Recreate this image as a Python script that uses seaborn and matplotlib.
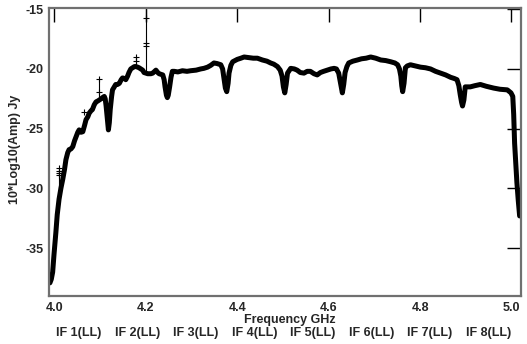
import numpy as np
import pandas as pd
import matplotlib
matplotlib.use("Agg")
import matplotlib.pyplot as plt
import seaborn as sns

# ---- data ----
freq = [3.990, 3.993, 3.996, 3.999, 4.003, 4.006, 4.010, 4.014, 4.018, 4.022,
        4.025, 4.029, 4.032, 4.036, 4.040, 4.044, 4.047, 4.051, 4.054, 4.058,
        4.062, 4.066, 4.069, 4.073, 4.076, 4.080, 4.083, 4.087, 4.091, 4.094,
        4.098, 4.102, 4.105, 4.109, 4.111, 4.113, 4.116, 4.118, 4.120, 4.122,
        4.125, 4.127, 4.131, 4.134, 4.138, 4.142, 4.146, 4.149, 4.153, 4.156,
        4.160, 4.163, 4.167, 4.171, 4.175, 4.178, 4.182, 4.185, 4.189, 4.193,
        4.196, 4.200, 4.204, 4.207, 4.211, 4.215, 4.219, 4.222, 4.226, 4.229,
        4.233, 4.237, 4.240, 4.242, 4.245, 4.247, 4.249, 4.252, 4.255, 4.258,
        4.262, 4.270, 4.280, 4.290, 4.298, 4.310, 4.320, 4.327, 4.335, 4.342,
        4.349, 4.356, 4.364, 4.368, 4.371, 4.374, 4.377, 4.380, 4.382, 4.386,
        4.390, 4.400, 4.408, 4.415, 4.425, 4.435, 4.444, 4.455, 4.465, 4.473,
        4.480, 4.488, 4.494, 4.498, 4.501, 4.504, 4.507, 4.510, 4.517, 4.525,
        4.531, 4.538, 4.546, 4.553, 4.560, 4.568, 4.575, 4.582, 4.589, 4.597,
        4.605, 4.612, 4.617, 4.622, 4.626, 4.630, 4.633, 4.636, 4.640, 4.644,
        4.653, 4.663, 4.672, 4.682, 4.692, 4.703, 4.714, 4.725, 4.736, 4.745,
        4.751, 4.755, 4.758, 4.760, 4.762, 4.765, 4.768, 4.772, 4.779, 4.790,
        4.801, 4.812, 4.823, 4.834, 4.845, 4.856, 4.867, 4.875, 4.881, 4.885,
        4.888, 4.891, 4.893, 4.896, 4.899, 4.905, 4.910, 4.920, 4.932, 4.945,
        4.961, 4.975, 4.991, 4.999, 5.003, 5.005, 5.007, 5.010, 5.012, 5.015,
        5.018]
amp = [-37.9, -37.6, -37.0, -35.5, -33.7, -32.2, -30.9, -30.0, -29.25, -28.4,
       -27.6, -27.0, -26.75, -26.7, -26.5, -26.0, -25.7, -25.3, -25.1, -25.3,
       -25.25, -24.7, -24.25, -24.0, -23.7, -23.5, -23.4, -23.0, -22.75, -22.7,
       -22.6, -22.5, -22.4, -22.3, -22.5, -23.1, -24.3, -25.1, -24.5, -23.4,
       -22.3, -21.75, -21.5, -21.3, -21.3, -21.2, -20.9, -20.75, -20.8, -20.9,
       -20.6, -20.3, -20.0, -19.9, -19.8, -19.8, -19.85, -19.9, -20.0, -20.1,
       -20.3, -20.35, -20.4, -20.4, -20.4, -20.35, -20.2, -20.1, -20.3, -20.4,
       -20.45, -20.5, -20.9, -21.5, -22.2, -22.4, -22.2, -21.5, -20.7, -20.2,
       -20.2, -20.25, -20.15, -20.2, -20.15, -20.1, -20.0, -19.95, -19.85, -19.7,
       -19.5, -19.55, -19.65, -20.0, -20.8, -21.6, -21.9, -21.2, -20.35, -19.7,
       -19.4, -19.2, -19.1, -19.0, -19.05, -19.1, -19.1, -19.25, -19.35, -19.5,
       -19.6, -19.8, -20.1, -20.6, -21.5, -22.0, -21.3, -20.35, -19.95, -20.0,
       -20.1, -20.3, -20.35, -20.2, -20.2, -20.4, -20.5, -20.3, -20.2, -20.1,
       -20.0, -19.95, -20.0, -20.35, -21.2, -22.0, -21.3, -20.3, -19.8, -19.5,
       -19.35, -19.25, -19.15, -19.1, -19.0, -19.1, -19.25, -19.3, -19.4, -19.5,
       -19.65, -20.0, -20.6, -21.4, -21.9, -21.2, -19.9, -19.75, -19.65, -19.75,
       -19.85, -19.9, -20.0, -20.2, -20.35, -20.5, -20.7, -20.8, -20.9, -21.4,
       -22.15, -22.8, -23.1, -22.6, -21.5, -21.5, -21.5, -21.4, -21.3, -21.45,
       -21.6, -21.7, -21.75, -22.0, -22.3, -23.8, -26.2, -28.2, -29.5, -31.0,
       -32.3]

# outlying samples (frequency, value)
out_freq = [4.010, 4.010, 4.010, 4.010, 4.098, 4.098, 4.200, 4.200, 4.200, 4.178, 4.178, 4.064]
out_amp = [-28.3, -28.5, -28.7, -28.9, -20.8, -21.9, -15.7, -17.8, -18.1, -19.0, -19.3, -23.6]
spike_freq = [4.010, 4.098, 4.200, 4.178]
spike_lo = [-30.0, -22.6, -20.4, -19.8]
spike_hi = [-28.3, -20.8, -15.0, -19.0]

if_names = ["IF 1(LL)", "IF 2(LL)", "IF 3(LL)", "IF 4(LL)",
            "IF 5(LL)", "IF 6(LL)", "IF 7(LL)", "IF 8(LL)"]
if_centers = [4.054, 4.182, 4.310, 4.438, 4.566, 4.694, 4.822, 4.950]

xticks = [4.0, 4.2, 4.4, 4.6, 4.8, 5.0]
yticks = [-35, -30, -25, -20, -15]

# ---- style ----
sns.set_theme(style="white")
plt.rcParams["font.family"] = ["Liberation Sans", "DejaVu Sans"]
plt.rcParams["font.weight"] = "bold"
plt.rcParams["axes.unicode_minus"] = False

FS = 9
fig = plt.figure(figsize=(5.27, 3.44), dpi=100)
ax = fig.add_axes([49 / 527, 1 - 296 / 344, 472 / 527, 288 / 344])

df = pd.DataFrame({"freq": freq, "amp": amp})
sns.lineplot(data=df, x="freq", y="amp", ax=ax, color="black", linewidth=3.6,
             sort=False, estimator=None)
ax.vlines(spike_freq, spike_lo, spike_hi, color="black", linewidth=0.8)
sns.scatterplot(x=out_freq, y=out_amp, ax=ax, marker="+", color="black", s=18,
                linewidth=0.8)

ax.set_xlim(3.988, 5.021)
ax.set_ylim(-39.0, -14.9)
ax.set_xticks(xticks)
ax.set_xticklabels([f"{t:.1f}" for t in xticks])
ax.set_yticks(yticks)
ax.set_yticklabels([str(t) for t in yticks])

ax.tick_params(axis="both", direction="in", length=10, width=1.0, color="black",
               top=True, right=True, labelsize=FS)
ax.tick_params(axis="x", pad=4.5)
ax.tick_params(axis="y", pad=4.0)
for lab in ax.get_xticklabels() + ax.get_yticklabels():
    lab.set_fontweight("bold")
for sp in ax.spines.values():
    sp.set_color("#707070")
    sp.set_linewidth(1.6)

ax.set_xlabel("Frequency GHz", fontsize=FS, fontweight="bold", va="center")
ax.xaxis.set_label_coords(0.51, -24 / 288)
ax.set_ylabel("10*Log10(Amp) Jy", fontsize=FS, fontweight="bold", va="center")
ax.yaxis.set_label_coords(-34 / 472, 0.51)

trans = matplotlib.transforms.blended_transform_factory(ax.transData, ax.transAxes)
for name, c in zip(if_names, if_centers):
    ax.text(c, -37 / 288, name, transform=trans, ha="center", va="center",
            fontsize=FS, fontweight="bold")

fig.savefig("out.png", dpi=100, facecolor="white")
